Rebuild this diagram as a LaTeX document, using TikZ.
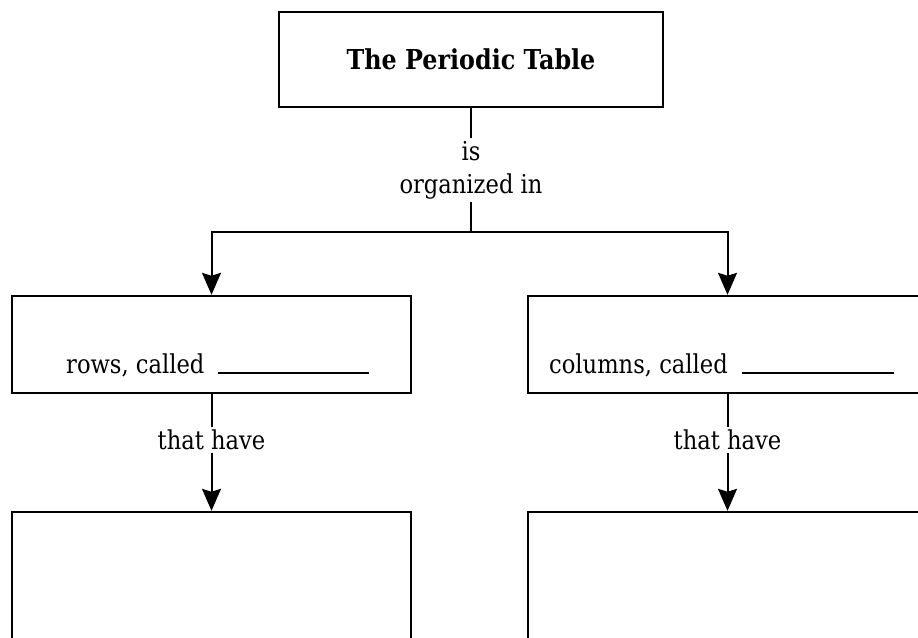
\documentclass[tikz,border=0pt]{standalone}
\usepackage{fontspec}
\setmainfont{DejaVu Serif}[FakeStretch=0.87]
\usetikzlibrary{arrows.meta}
\begin{document}
\begin{tikzpicture}[x=1pt,y=-1pt,
  box/.style={draw, line width=2.4pt, rectangle, minimum width=399pt,
    minimum height=97pt, inner sep=0pt},
  link/.style={line width=2pt},
  arr/.style={link, -{Stealth[length=22pt,width=19pt,inset=3pt]}},
  lbl/.style={fill=white, inner sep=3pt, font=\fontsize{26}{33}\selectfont,
    align=center},
  body/.style={font=\fontsize{26}{33}\selectfont, inner sep=0pt,
    anchor=base west},
]
\useasboundingbox (0,0) rectangle (918,637);
\fill[white] (0,0) rectangle (918,637);
\clip (0,0) rectangle (918,637);

% top concept
\node[box, minimum width=384pt, minimum height=95pt,
  font=\fontsize{27.4}{32}\selectfont\bfseries] (title) at (471,59.5)
  {The Periodic Table};
\coordinate (split) at (471,232);

% second level
\node[box] (rowbox) at (211.5,344.5) {};
\node[box] (colbox) at (727.5,344.5) {};
\node[body] (rowtext) at (66,373)
  {rows, called\hspace{14pt}\rule[-1pt]{151pt}{2pt}};
\node[body] (coltext) at (549,373)
  {columns, called\hspace{14pt}\rule[-1pt]{152pt}{2pt}};

% empty answer boxes
\node[box, minimum height=240pt] (rowsub) at (211.5,632) {};
\node[box, minimum height=240pt] (colsub) at (727.5,632) {};

% links
\draw[link] (title) -- node[lbl]{is\\organized in} (split);
\draw[arr] (split) -| (rowbox.north);
\draw[arr] (split) -| (colbox.north);
\draw[arr] (rowbox) -- node[lbl, pos=0.39]{that have} (rowsub);
\draw[arr] (colbox) -- node[lbl, pos=0.39]{that have} (colsub);
\end{tikzpicture}
\end{document}
